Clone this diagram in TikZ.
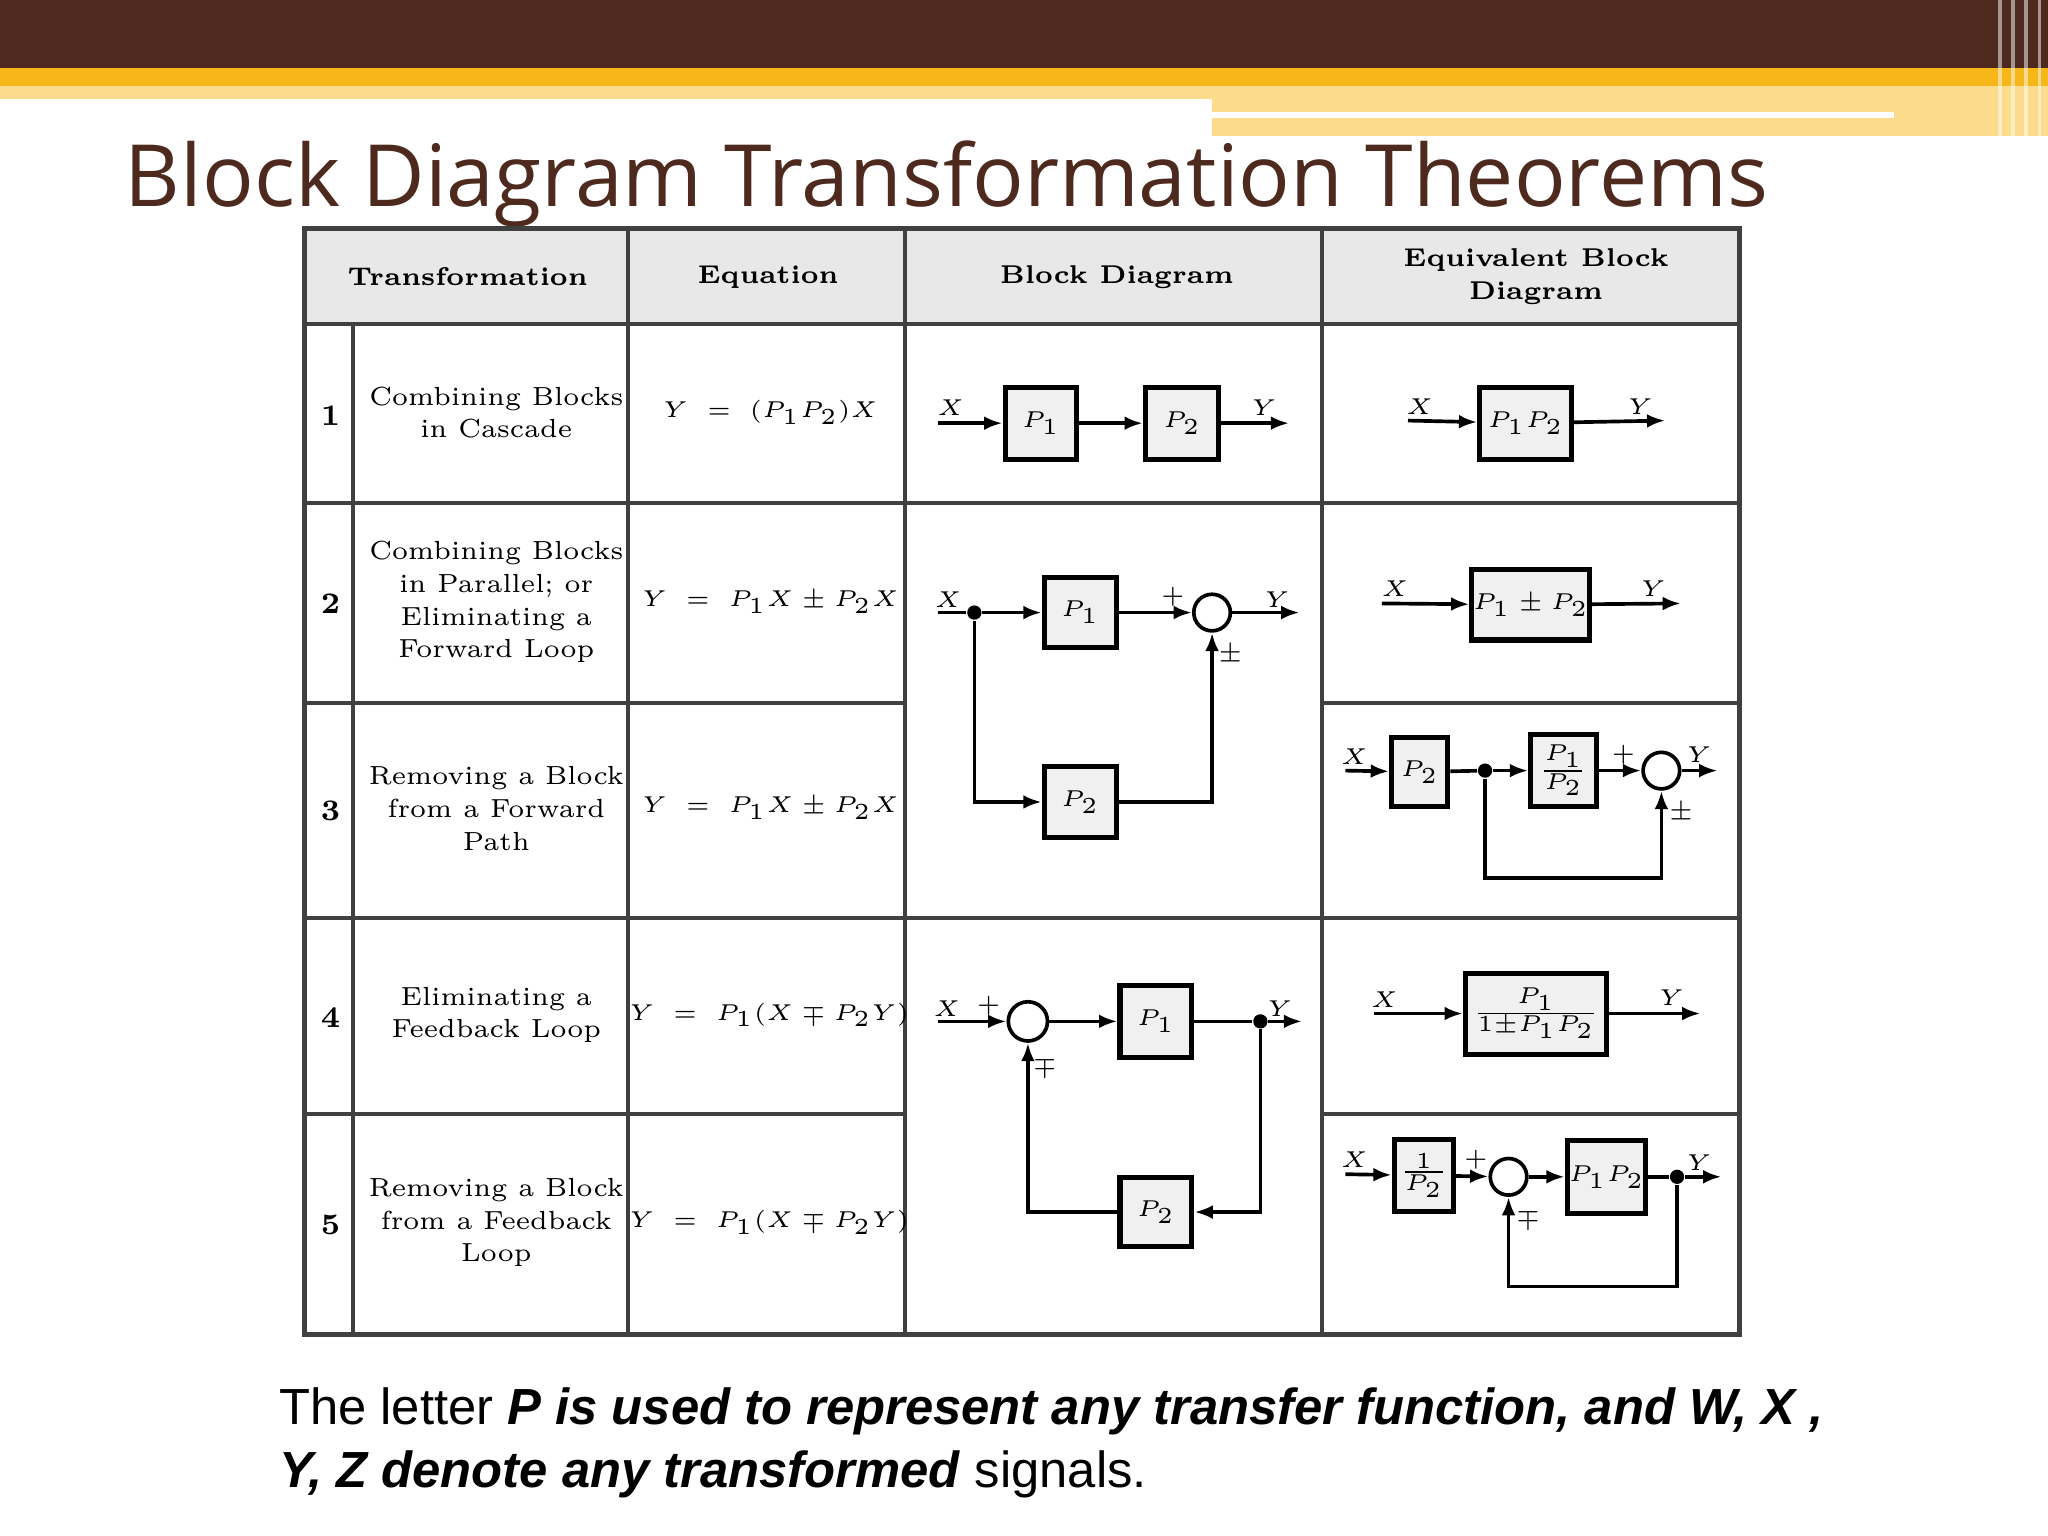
\documentclass[tikz,border=0pt]{standalone}
\usepackage{fontspec}
\usetikzlibrary{arrows.meta}
\newfontfamily\titlefont{Open Sans}
\newfontfamily\arialfont{Liberation Sans}
\definecolor{brn}{HTML}{4E2A1E}
\definecolor{gld}{HTML}{F7B718}
\definecolor{lgld}{HTML}{FCDC8C}
\begin{document}
\begin{tikzpicture}[x=0.01cm,y=-0.01cm,
  blk/.style={draw,line width=1.1pt,fill=gray!12,inner sep=0pt,font=\fontsize{4.8}{5.8}\selectfont},
  sum/.style={circle,draw,line width=0.8pt,minimum size=0.28cm,inner sep=0pt},
  jdot/.style={circle,fill,inner sep=1.1pt},
  arr/.style={-{Latex[length=4pt,width=3pt]},line width=0.8pt},
  ln/.style={line width=0.8pt},
  grid/.style={line width=0.9pt,black!75},
  lab/.style={font=\fontsize{5.2}{6.2}\selectfont},
  cell/.style={align=center,font=\fontsize{5.7}{7.1}\selectfont},
  eqn/.style={font=\fontsize{5.4}{7}\selectfont},
  hdr/.style={align=center,font=\fontsize{5.6}{7.1}\selectfont\bfseries},
  num/.style={font=\fontsize{6.5}{8}\selectfont\bfseries}]
\useasboundingbox (0,0) rectangle (1568,1176);
% header band
\fill[brn] (0,0) rectangle (1568,52);
\fill[gld] (0,52) rectangle (1568,66);
\fill[lgld] (0,66) rectangle (928,76);
\fill[lgld] (928,66) rectangle (1568,104);
\fill[white] (928,86) rectangle (1450,90);
\foreach \xx in {1530,1540,1550,1560} \fill[white,opacity=0.5] (\xx,0) rectangle (\xx+3,104);
\node[anchor=base west,text=brn,inner sep=0pt,font=\titlefont\fontsize{18.7}{20}\selectfont] (title) at (95,158) {Block Diagram Transformation Theorems};
% table
\fill[gray!18] (233,175) rectangle (1332,248);
\draw[grid,line width=1.1pt] (233,175) rectangle (1332,1022);
\draw[grid] (233,248) -- (1332,248);
\draw[grid] (233,385) -- (1332,385);
\draw[grid] (233,538) -- (693,538) (1012,538) -- (1332,538);
\draw[grid] (233,703) -- (1332,703);
\draw[grid] (233,853) -- (693,853) (1012,853) -- (1332,853);
\draw[grid] (270,248) -- (270,1022);
\draw[grid] (481,175) -- (481,1022);
\draw[grid] (693,175) -- (693,1022);
\draw[grid] (1012,175) -- (1012,1022);
\node[hdr] (h1) at (358,212) {Transformation};
\node[hdr] (h2) at (588,212) {Equation};
\node[hdr] (h3) at (855,212) {Block Diagram};
\node[hdr] (h4) at (1176,212) {Equivalent Block\\Diagram};
\node[num] (n1) at (253,318) {1};
\node[num] (n2) at (253,462) {2};
\node[num] (n3) at (253,621) {3};
\node[num] (n4) at (253,779) {4};
\node[num] (n5) at (253,938) {5};
\node[cell] (t1) at (380,316) {Combining Blocks\\in Cascade};
\node[cell] (t2) at (380,461) {Combining Blocks\\in Parallel; or\\Eliminating a\\Forward Loop};
\node[cell] (t3) at (380,619) {Removing a Block\\from a Forward\\Path};
\node[cell] (t4) at (380,777) {Eliminating a\\Feedback Loop};
\node[cell] (t5) at (380,936) {Removing a Block\\from a Feedback\\Loop};
\node[eqn] (e1) at (590,316) {$Y\;=\;(P_1P_2)X$};
\node[eqn] (e2) at (590,461) {$Y\;=\;P_1X\pm P_2X$};
\node[eqn] (e3) at (590,619) {$Y\;=\;P_1X\pm P_2X$};
\node[eqn] (e4) at (589,777) {$Y\;=\;P_1(X\mp P_2Y)$};
\node[eqn] (e5) at (589,936) {$Y\;=\;P_1(X\mp P_2Y)$};
% row 1 block diagram
\coordinate (a1in) at (718,324);
\node[blk,minimum width=0.55cm,minimum height=0.55cm] (a1p1) at (797,324) {$P_1$};
\node[blk,minimum width=0.56cm,minimum height=0.55cm] (a1p2) at (905,324) {$P_2$};
\coordinate (a1out) at (987,324);
\draw[arr] (a1in) -- (a1p1); \draw[arr] (a1p1) -- (a1p2); \draw[arr] (a1p2) -- (a1out);
\node[lab] (a1x) at (728,312) {$X$}; \node[lab] (a1y) at (968,312) {$Y$};
% row 1 equivalent
\coordinate (b1in) at (1078,322);
\node[blk,minimum width=0.7cm,minimum height=0.55cm] (b1p) at (1168,324) {$P_1P_2$};
\coordinate (b1out) at (1275,322);
\draw[arr] (b1in) -- (b1p); \draw[arr] (b1p) -- (b1out);
\node[lab] (b1x) at (1087,311) {$X$}; \node[lab] (b1y) at (1256,311) {$Y$};
% rows 2-3 block diagram
\coordinate (a2in) at (718,469);
\node[jdot] (a2d) at (746,469) {};
\node[blk,minimum width=0.55cm,minimum height=0.54cm] (a2p1) at (827,469) {$P_1$};
\node[blk,minimum width=0.55cm,minimum height=0.54cm] (a2p2) at (827,614) {$P_2$};
\node[sum] (a2s) at (928,469) {};
\coordinate (a2out) at (995,469);
\draw[ln] (a2in) -- (a2d); \draw[arr] (a2d) -- (a2p1); \draw[arr] (a2p1) -- (a2s); \draw[arr] (a2s) -- (a2out);
\draw[arr] (a2d) |- (a2p2);
\draw[arr] (a2p2) -| (a2s);
\node[lab] (a2x) at (726,459) {$X$}; \node[lab] (a2y) at (978,459) {$Y$};
\node[lab] (a2pl) at (898,457) {$+$}; \node[lab] (a2pm) at (942,501) {$\pm$};
% row 2 equivalent
\coordinate (b2in) at (1058,462);
\node[blk,minimum width=0.9cm,minimum height=0.54cm] (b2p) at (1172,463) {$P_1\pm P_2$};
\coordinate (b2out) at (1287,462);
\draw[arr] (b2in) -- (b2p); \draw[arr] (b2p) -- (b2out);
\node[lab] (b2x) at (1068,451) {$X$}; \node[lab] (b2y) at (1266,451) {$Y$};
% row 3 equivalent
\coordinate (b3in) at (1030,590);
\node[blk,minimum width=0.43cm,minimum height=0.53cm] (b3p2) at (1087,591) {$P_2$};
\node[jdot] (b3d) at (1137,590) {};
\node[blk,minimum width=0.5cm,minimum height=0.55cm] (b3f) at (1197,590) {$\frac{P_1}{P_2}$};
\node[sum] (b3s) at (1272,590) {};
\coordinate (b3out) at (1315,590);
\coordinate (b3c) at (1137,672);
\draw[arr] (b3in) -- (b3p2); \draw[ln] (b3p2) -- (b3d); \draw[arr] (b3d) -- (b3f); \draw[arr] (b3f) -- (b3s); \draw[arr] (b3s) -- (b3out);
\draw[arr] (b3d) -- (b3c) -| (b3s);
\node[lab] (b3x) at (1037,579) {$X$}; \node[lab] (b3y) at (1301,578) {$Y$};
\node[lab] (b3pl) at (1243,578) {$+$}; \node[lab] (b3pm) at (1287,622) {$\pm$};
% rows 4-5 block diagram
\coordinate (a4in) at (718,782);
\node[sum,minimum size=0.3cm] (a4s) at (787,782) {};
\node[blk,minimum width=0.55cm,minimum height=0.55cm] (a4p1) at (885,782) {$P_1$};
\node[jdot] (a4d) at (965,782) {};
\coordinate (a4out) at (997,782);
\node[blk,minimum width=0.55cm,minimum height=0.53cm] (a4p2) at (885,928) {$P_2$};
\draw[arr] (a4in) -- (a4s); \draw[arr] (a4s) -- (a4p1); \draw[ln] (a4p1) -- (a4d); \draw[arr] (a4d) -- (a4out);
\draw[arr] (a4d) |- (a4p2);
\draw[arr] (a4p2) -| (a4s);
\node[lab] (a4x) at (725,772) {$X$}; \node[lab] (a4pl) at (757,770) {$+$};
\node[lab] (a4y) at (980,772) {$Y$}; \node[lab] (a4mp) at (800,817) {$\mp$};
% row 4 equivalent
\coordinate (b4in) at (1052,776);
\node[blk,minimum width=1.08cm,minimum height=0.62cm] (b4p) at (1176,776) {$\frac{P_1}{1\pm P_1P_2}$};
\coordinate (b4out) at (1302,776);
\draw[arr] (b4in) -- (b4p); \draw[arr] (b4p) -- (b4out);
\node[lab] (b4x) at (1060,765) {$X$}; \node[lab] (b4y) at (1280,764) {$Y$};
% row 5 equivalent
\coordinate (b5in) at (1030,899);
\node[blk,minimum width=0.45cm,minimum height=0.55cm] (b5f) at (1090,900) {$\frac{1}{P_2}$};
\node[sum] (b5s) at (1155,901) {};
\node[blk,minimum width=0.6cm,minimum height=0.56cm] (b5p) at (1230,901) {$P_1P_2$};
\node[jdot] (b5d) at (1284,901) {};
\coordinate (b5out) at (1318,901);
\coordinate (b5c) at (1284,985);
\draw[arr] (b5in) -- (b5f); \draw[arr] (b5f) -- (b5s); \draw[arr] (b5s) -- (b5p); \draw[ln] (b5p) -- (b5d); \draw[arr] (b5d) -- (b5out);
\draw[arr] (b5d) -- (b5c) -| (b5s);
\node[lab] (b5x) at (1037,888) {$X$}; \node[lab] (b5y) at (1301,890) {$Y$};
\node[lab] (b5pl) at (1130,888) {$+$}; \node[lab] (b5mp) at (1170,933) {$\mp$};
% caption
\node[anchor=base west,inner sep=0pt,font=\arialfont\fontsize{11.05}{13.6}\selectfont] (cap1) at (213,1091)
 {The letter \textbf{\textit{P is used to represent any transfer function, and W, X ,}}};
\node[anchor=base west,inner sep=0pt,font=\arialfont\fontsize{11.05}{13.6}\selectfont] (cap2) at (213,1139)
 {\textbf{\textit{Y, Z denote any transformed}} signals.};
\end{tikzpicture}
\end{document}
